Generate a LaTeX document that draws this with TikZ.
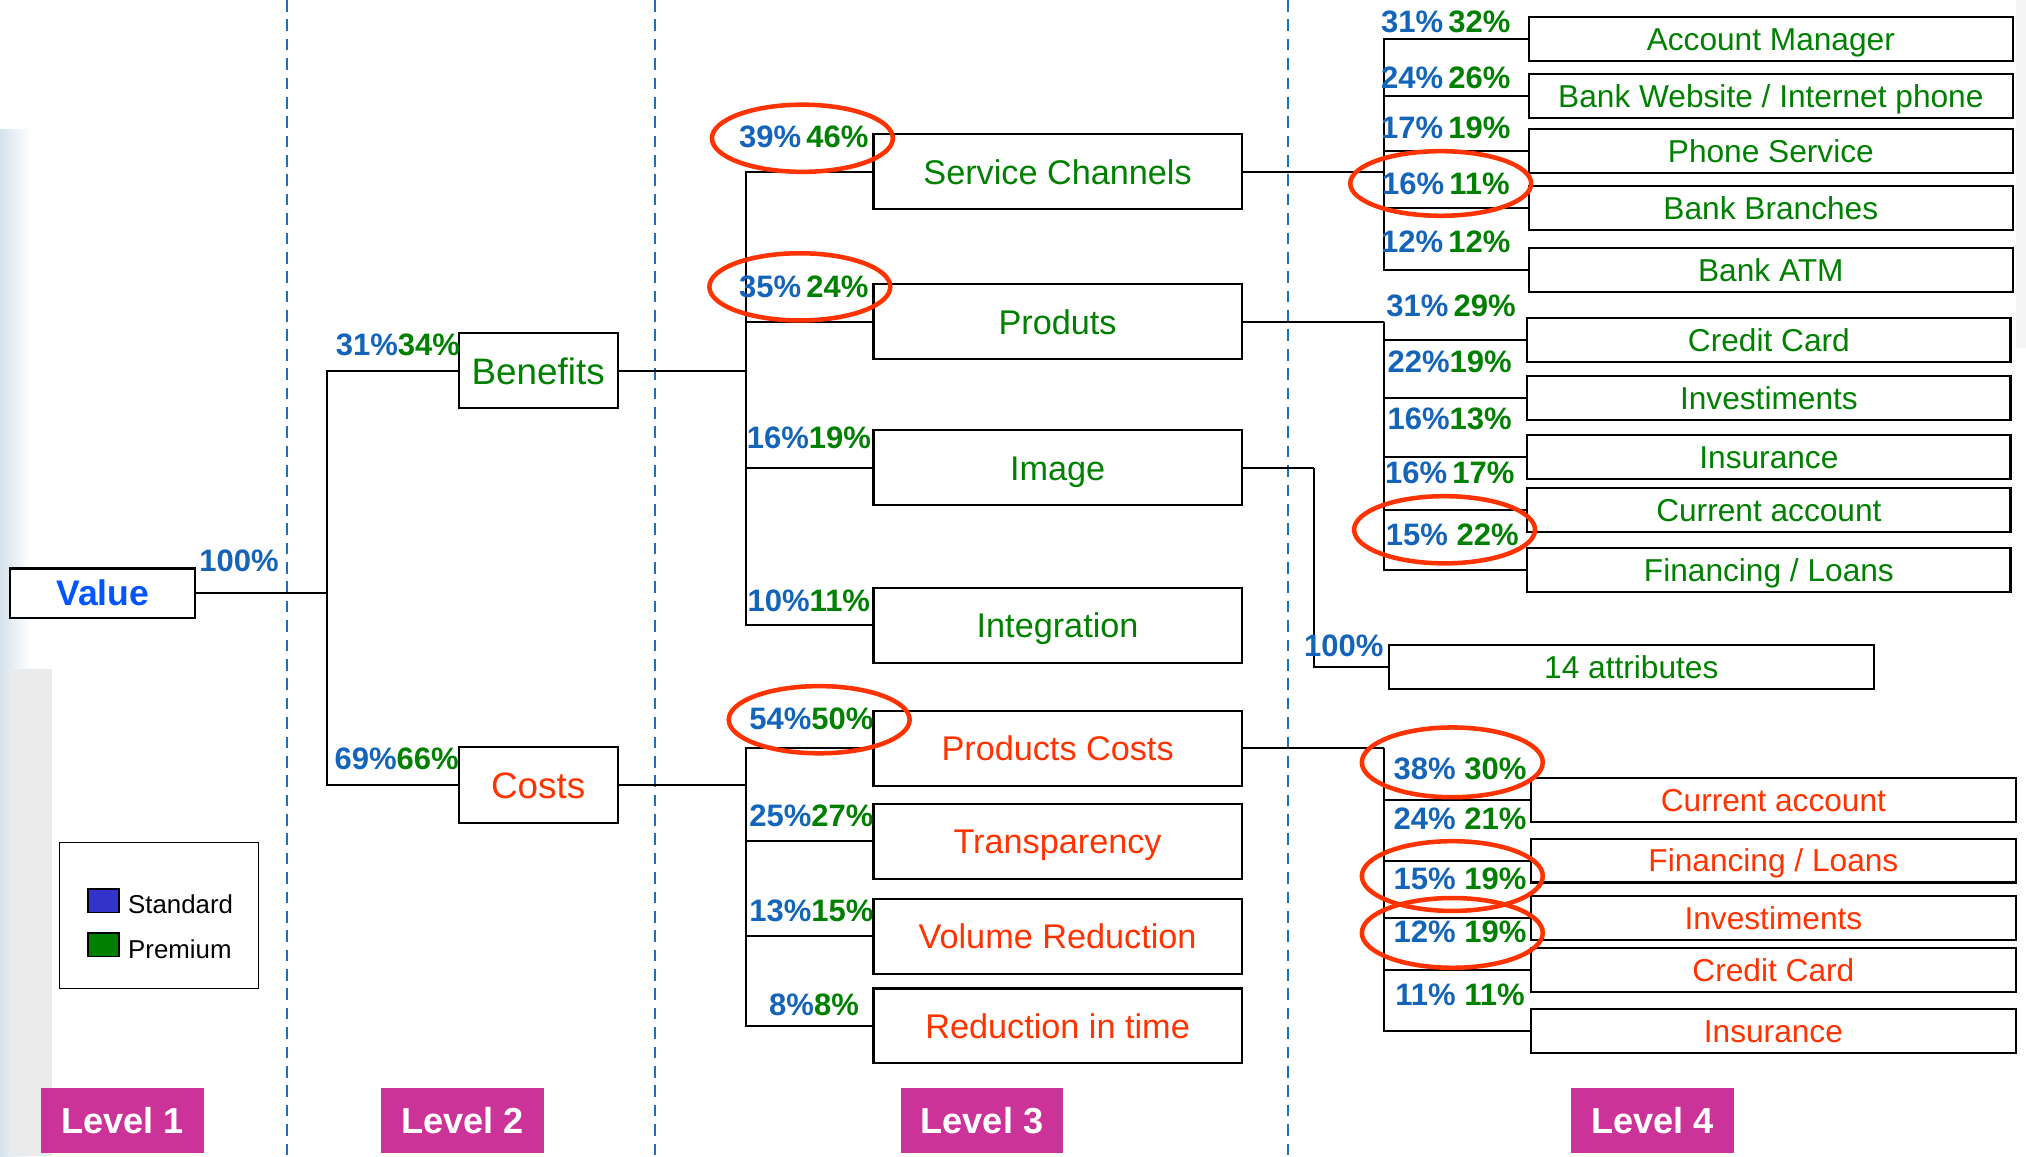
\documentclass[tikz,border=0pt]{standalone}
\usepackage{fontspec}
\setmainfont{Liberation Sans}
\usetikzlibrary{shapes.geometric}
\definecolor{pblue}{RGB}{20,100,185}
\definecolor{pgreen}{RGB}{0,128,0}
\definecolor{cred}{RGB}{255,51,0}
\definecolor{vblue}{RGB}{0,85,255}
\definecolor{dashblue}{RGB}{30,110,190}
\definecolor{lvl}{RGB}{204,51,153}
\definecolor{stdblue}{RGB}{51,51,204}
\definecolor{slideblue}{RGB}{214,226,236}
\newcommand{\pcl}[2]{\textcolor{pblue}{#1}\textcolor{pgreen}{#2}}
\begin{document}
\begin{tikzpicture}[x=1pt,y=-1pt,
  box/.style={draw, line width=1.6pt, fill=white, inner sep=0pt, text depth=0pt},
  bigtxt/.style={font=\fontsize{26.5}{30}\selectfont, text height=19pt},
  midtxt/.style={font=\fontsize{28.5}{32}\selectfont, text height=20.4pt},
  smalltxt/.style={font=\fontsize{24.5}{28}\selectfont, text height=17.5pt},
  lvthree/.style={box, bigtxt, minimum width=285pt, minimum height=58pt},
  lvfour/.style={box, smalltxt, minimum width=375pt, minimum height=34pt},
  pct/.style={font=\bfseries\fontsize{24}{28}\selectfont, inner sep=0pt},
  conn/.style={line width=1.6pt},
  hl/.style={draw=cred, line width=3.5pt, ellipse, minimum width=140pt, minimum height=52pt, inner sep=0pt},
  sep/.style={dashblue, line width=1.3pt, dash pattern=on 9pt off 6pt},
  lvlbox/.style={fill=lvl, text=white, font=\bfseries\fontsize{28}{32}\selectfont, minimum width=126pt, minimum height=50pt, inner sep=0pt},
  legtxt/.style={font=\fontsize{20}{24}\selectfont, anchor=west, inner sep=0pt}
]
\useasboundingbox (0,0) rectangle (1568,895);
\fill[white] (0,0) rectangle (1568,895);
% faint slide background
\shade[left color=slideblue, right color=white] (0,100) rectangle (24,895);
\fill[gray!16] (8,518) rectangle (40,895);
\fill[gray!8] (1560,0) rectangle (1568,269);

% separators
\draw[sep] (222,0) -- (222,895);
\draw[sep] (507,0) -- (507,895);
\draw[sep] (997,0) -- (997,895);

% level 1 / 2
\node[box, minimum width=143pt, minimum height=38pt, font=\bfseries\fontsize{27.5}{30}\selectfont, text height=19.7pt, text=vblue] (value) at (79.5,459) {Value};
\node[box, midtxt, minimum width=123pt, minimum height=58pt, text=pgreen] (ben) at (416.5,287) {Benefits};
\node[box, midtxt, minimum width=123pt, minimum height=59pt, text=cred] (cost) at (416.5,607.5) {Costs};

% level 3
\node[lvthree, text=pgreen] (sc) at (818.5,133) {Service Channels};
\node[lvthree, text=pgreen] (prod) at (818.5,249) {Produts};
\node[lvthree, text=pgreen] (img) at (818.5,362) {Image};
\node[lvthree, text=pgreen] (integ) at (818.5,484) {Integration};
\node[lvthree, text=cred] (pc) at (818.5,579) {Products Costs};
\node[lvthree, text=cred] (tr) at (818.5,651) {Transparency};
\node[lvthree, text=cred] (vr) at (818.5,724.5) {Volume Reduction};
\node[lvthree, text=cred] (rt) at (818.5,794) {Reduction in time};

% level 4 : service channels
\node[lvfour, text=pgreen] (am) at (1370.5,30) {Account Manager};
\node[lvfour, text=pgreen] (bw) at (1370.5,74.5) {Bank Website / Internet phone};
\node[lvfour, text=pgreen] (ps) at (1370.5,117) {Phone Service};
\node[lvfour, text=pgreen] (bb) at (1370.5,161) {Bank Branches};
\node[lvfour, text=pgreen] (atm) at (1370.5,209) {Bank ATM};
% products
\node[lvfour, minimum width=374pt, text=pgreen] (cc) at (1369,263) {Credit Card};
\node[lvfour, minimum width=374pt, text=pgreen] (inv) at (1369,308) {Investiments};
\node[lvfour, minimum width=374pt, text=pgreen] (ins) at (1369,354) {Insurance};
\node[lvfour, minimum width=374pt, text=pgreen] (ca) at (1369,395) {Current account};
\node[lvfour, minimum width=374pt, text=pgreen] (fl) at (1369,441) {Financing / Loans};
% image
\node[lvfour, text=pgreen] (attr) at (1262.5,516) {14 attributes};
% products costs
\node[lvfour, text=cred] (cab) at (1372.5,619) {Current account};
\node[lvfour, text=cred] (flb) at (1372.5,666) {Financing / Loans};
\node[lvfour, text=cred] (invb) at (1372.5,710.5) {Investiments};
\node[lvfour, text=cred] (ccb) at (1372.5,751) {Credit Card};
\node[lvfour, text=cred] (insb) at (1372.5,798) {Insurance};

% junctions
\coordinate (j1) at (253,459);
\coordinate (j2) at (577,287);
\coordinate (j3) at (577,607.5);
\coordinate (j4) at (1071,133);
\coordinate (j5) at (1071,249);
\coordinate (j6) at (1017,362);
\coordinate (j7) at (1071,579);

% connectors
\draw[conn] (value.east) -- (j1);
\draw[conn] (j1) |- (ben.west);
\draw[conn] (j1) |- (cost.west);
\draw[conn] (ben.east) -- (j2);
\foreach \n in {sc,prod,img,integ} \draw[conn] (j2) |- (\n.west);
\draw[conn] (cost.east) -- (j3);
\foreach \n in {pc,tr,vr,rt} \draw[conn] (j3) |- (\n.west);
\draw[conn] (sc.east) -- (j4);
\foreach \n in {am,bw,ps,bb,atm} \draw[conn] (j4) |- (\n.west);
\draw[conn] (prod.east) -- (j5);
\foreach \n in {cc,inv,ins,ca,fl} \draw[conn] (j5) |- (\n.west);
\draw[conn] (img.east) -- (j6);
\draw[conn] (j6) |- (attr.west);
\draw[conn] (pc.east) -- (j7);
\foreach \n in {cab,flb,invb,ccb,insb} \draw[conn] (j7) |- (\n.west);

% percentages
\node[pct, text=pblue] (p100) at (185,434) {100\%};
\node[pct] (pben) at (308,267) {\pcl{31\%}{34\%}};
\node[pct] (pcost) at (307,587) {\pcl{69\%}{66\%}};
\node[pct] (psc) at (622,106) {\pcl{39\%\,}{46\%}};
\node[pct] (pprod) at (622,222) {\pcl{35\%\,}{24\%}};
\node[pct] (pimg) at (626,339) {\pcl{16\%}{19\%}};
\node[pct] (pint) at (626,465) {\pcl{10\%}{11\%}};
\node[pct] (ppc) at (628,556) {\pcl{54\%}{50\%}};
\node[pct] (ptr) at (628,631) {\pcl{25\%}{27\%}};
\node[pct] (pvr) at (628,705) {\pcl{13\%}{15\%}};
\node[pct] (prt) at (630,778) {\pcl{8\%}{8\%}};

\node[pct] (pam) at (1119,17) {\pcl{31\%\,}{32\%}};
\node[pct] (pbw) at (1119,60) {\pcl{24\%\,}{26\%}};
\node[pct] (pps) at (1119,99) {\pcl{17\%\,}{19\%}};
\node[pct] (pbb) at (1119,142) {\pcl{16\%\,}{11\%}};
\node[pct] (patm) at (1119,187) {\pcl{12\%\,}{12\%}};

\node[pct] (pcc) at (1123,237) {\pcl{31\%\,}{29\%}};
\node[pct] (pinv) at (1122,280) {\pcl{22\%}{19\%}};
\node[pct] (pins) at (1122,324) {\pcl{16\%}{13\%}};
\node[pct] (pca) at (1122,366) {\pcl{16\%\,}{17\%}};
\node[pct] (pfl) at (1124,414) {\pcl{15\% }{22\%}};

\node[pct, text=pblue] (pattr) at (1040,500) {100\%};

\node[pct] (pcab) at (1130,595) {\pcl{38\% }{30\%}};
\node[pct] (pflb) at (1130,634) {\pcl{24\% }{21\%}};
\node[pct] (pinvb) at (1130,680) {\pcl{15\% }{19\%}};
\node[pct] (pccb) at (1130,721) {\pcl{12\% }{19\%}};
\node[pct] (pinsb) at (1130,770) {\pcl{11\% }{11\%}};

% highlight ellipses
\node[hl] (e1) at (621,107) {};
\node[hl] (e2) at (619,222) {};
\node[hl] (e3) at (634,557) {};
\node[hl, minimum height=50pt] (e4) at (1115,142) {};
\node[hl] (e5) at (1118,410) {};
\node[hl, minimum height=54pt] (e6) at (1124,590) {};
\node[hl, minimum height=54pt] (e7) at (1124,678) {};
\node[hl, minimum height=54pt] (e8) at (1124,722) {};

% legend
\node[draw, line width=1.4pt, fill=white, minimum width=154pt, minimum height=113pt, inner sep=0pt] (legend) at (123,708.5) {};
\node[draw, line width=1pt, fill=stdblue, minimum width=24pt, minimum height=18pt, inner sep=0pt] (sqs) at (80,697) {};
\node[legtxt] (lstd) at (99,700) {Standard};
\node[draw, line width=1pt, fill=pgreen, minimum width=24pt, minimum height=18pt, inner sep=0pt] (sqp) at (80,731) {};
\node[legtxt] (lprem) at (99,735) {Premium};

% level tags
\node[lvlbox] (l1) at (95,867) {Level 1};
\node[lvlbox] (l2) at (358,867) {Level 2};
\node[lvlbox] (l3) at (760,867) {Level 3};
\node[lvlbox] (l4) at (1279,867) {Level 4};
\end{tikzpicture}
\end{document}
